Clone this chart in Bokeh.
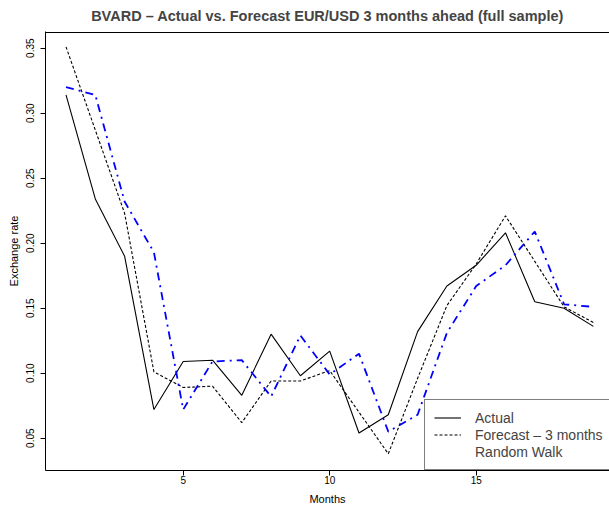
from bokeh.plotting import figure
from bokeh.models import Range1d, FixedTicker, Legend, LegendItem, NumeralTickFormatter
from bokeh.embed import file_html
from bokeh.resources import INLINE

months = list(range(1, 20))
actual = [0.314, 0.234, 0.190, 0.072, 0.109, 0.110, 0.083, 0.130, 0.098, 0.117,
          0.054, 0.068, 0.132, 0.167, 0.183, 0.208, 0.155, 0.150, 0.136]
forecast = [0.351, 0.287, 0.223, 0.101, 0.089, 0.090, 0.062, 0.094, 0.094, 0.102,
            0.070, 0.038, 0.096, 0.152, 0.184, 0.221, 0.186, 0.151, 0.139]
random_walk = [0.320, 0.314, 0.232, 0.193, 0.072, 0.109, 0.110, 0.082, 0.129, 0.099,
               0.115, 0.055, 0.068, 0.131, 0.167, 0.183, 0.209, 0.153, 0.151]
x_ticks = [5, 10, 15]
y_ticks = [0.05, 0.10, 0.15, 0.20, 0.25, 0.30, 0.35]

FONT = "Liberation Sans"
X0, X1 = 0.30, 19.55
Y0, Y1 = 0.02515, 0.3628

p = figure(width=609, height=508, output_backend="svg", toolbar_location=None,
           x_range=Range1d(X0, X1), y_range=Range1d(Y0, Y1),
           min_border_left=45, min_border_right=0, min_border_top=31, min_border_bottom=38)
p.outline_line_color = None
p.xgrid.grid_line_color = None
p.ygrid.grid_line_color = None
p.background_fill_color = "white"
p.border_fill_color = "white"

xax = p.below[0]
yax = p.left[0]

p.title.text = "BVARD \u2013 Actual vs. Forecast EUR/USD 3 months ahead (full sample)"
p.title.align = "center"
p.title.vertical_align = "top"
p.title.text_font = FONT
p.title.text_font_size = "14.5px"
p.title.text_font_style = "bold"
p.title.standoff = 12

for ax in (xax, yax):
    ax.axis_line_color = "black"
    ax.major_tick_line_color = "black"
    ax.major_tick_out = 5
    ax.major_tick_in = 0
    ax.minor_tick_line_color = None
    ax.major_label_text_font = FONT
    ax.major_label_text_font_size = "10px"
    ax.major_label_text_color = "black"
    ax.axis_label_text_font = FONT
    ax.axis_label_text_font_size = "11px"
    ax.axis_label_text_font_style = "normal"
    ax.axis_label_text_color = "black"

xax.ticker = FixedTicker(ticks=x_ticks)
xax.axis_label = "Months"
xax.major_label_standoff = 0
xax.axis_label_standoff = 6

yax.ticker = FixedTicker(ticks=y_ticks)
yax.formatter = NumeralTickFormatter(format="0.00")
yax.major_label_orientation = "vertical"
yax.axis_label = "Exchange rate"
yax.major_label_standoff = 6
yax.axis_label_standoff = 4

# top edge of the plot box, drawn as an ordinary line glyph along the range limits
top_y = Y1 - 1.0 / 1300
p.line([X0, X1], [top_y, top_y], line_color="black", line_width=1.2)

r_act = p.line(months, actual, line_color="black", line_width=1.1)
r_fc = p.line(months, forecast, line_color="black", line_width=1.1, line_dash="3 2")
r_rw = p.line(months, random_walk, line_color="#0000ff", line_width=1.8, line_dash="8 5 2 5")
r_rw_leg = p.line([], [], line_color="#0000ff", line_width=1, line_dash="2 2")

legend = Legend(items=[LegendItem(label="Actual", renderers=[r_act]),
                       LegendItem(label="Forecast \u2013 3 months", renderers=[r_fc]),
                       LegendItem(label="Random Walk", renderers=[r_rw_leg])],
                location=(379, 0), margin=0, padding=9, spacing=0,
                label_height=17, glyph_height=17, glyph_width=27, label_standoff=14,
                label_text_font=FONT, label_text_font_size="14px",
                border_line_color="black", border_line_width=1,
                background_fill_color="white", background_fill_alpha=1)
p.add_layout(legend)

open("out.html", "w").write(file_html(p, INLINE))
